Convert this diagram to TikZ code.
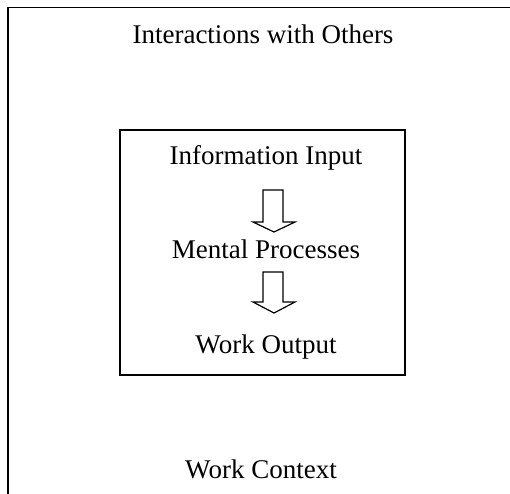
\documentclass[tikz,border=0pt]{standalone}
\usepackage{fontspec}
\setmainfont{Liberation Serif}
\begin{document}
\begin{tikzpicture}[x=1pt,y=-1pt,
  frame/.style={draw=black,line width=1.4pt},
  label/.style={anchor=base,inner sep=0pt,font=\fontsize{27}{32}\selectfont},
  blockarrow/.style={draw=black,line width=1.2pt,fill=white,line join=miter}]
\useasboundingbox (0,0) rectangle (510,493);
\clip (0,0) rectangle (510,493);
% outer context frame (runs past the right and bottom edges)
\draw[frame] (8,7.5) rectangle (530,520);
% inner task box
\draw[frame] (120,130) rectangle (405,375);
% labels
\node[label] (others)  at (263,43)  {Interactions with Others};
\node[label] (input)   at (266,164) {Information Input};
\node[label] (mental)  at (266,258) {Mental Processes};
\node[label] (output)  at (266,353) {Work Output};
\node[label] (context) at (261,478) {Work Context};
% hollow block arrows
\draw[blockarrow] (263,190) -- (283,190) -- (283,222) -- (295,222) -- (274,232)
  -- (253,222) -- (263,222) -- cycle;
\draw[blockarrow] (263,272) -- (283,272) -- (283,302) -- (295,302) -- (274,313)
  -- (253,302) -- (263,302) -- cycle;
\end{tikzpicture}
\end{document}
